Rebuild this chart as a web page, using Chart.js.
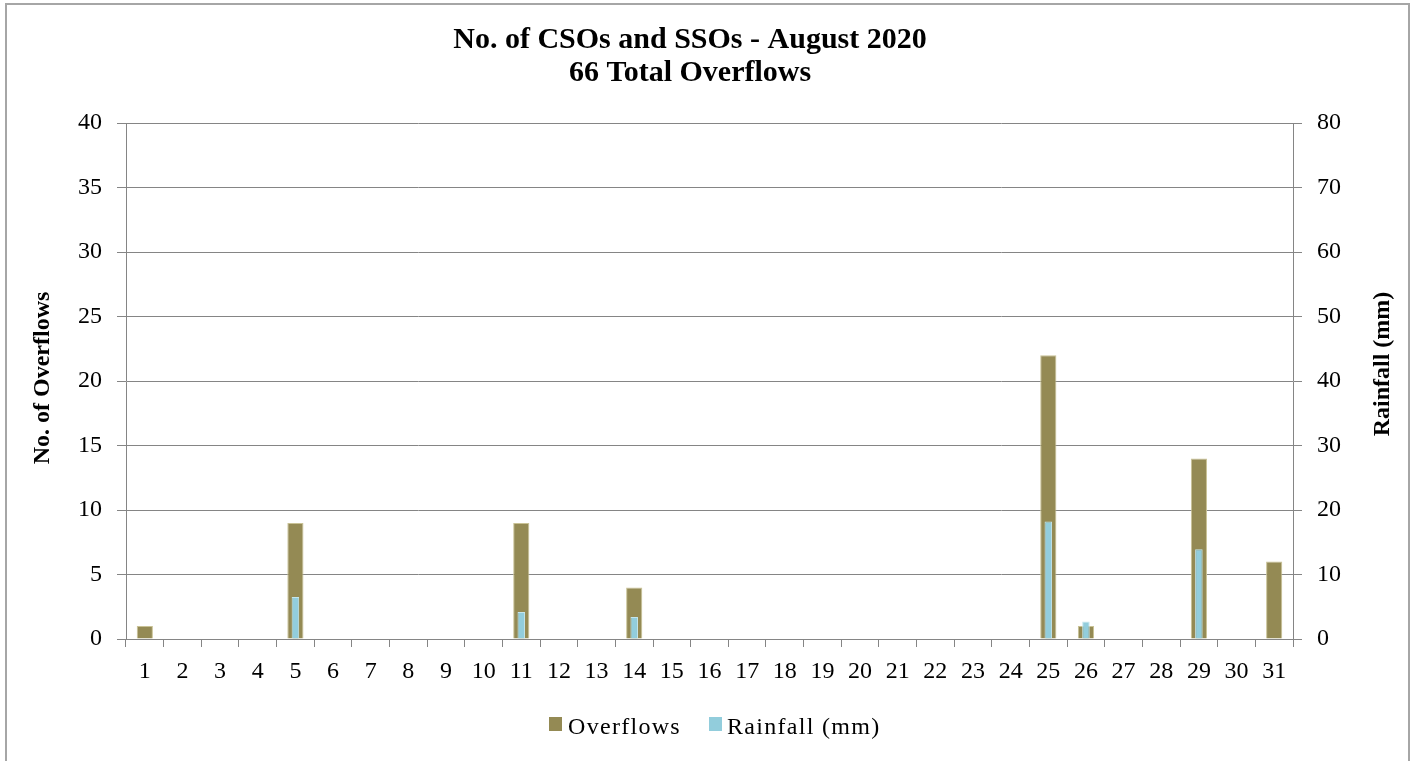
<!DOCTYPE html>
<html>
<head>
<meta charset="utf-8">
<title>No. of CSOs and SSOs - August 2020</title>
<script src="https://cdn.jsdelivr.net/npm/chart.js@4.4.1/dist/chart.umd.min.js"></script>
<style>
  html, body { margin: 0; padding: 0; background: #ffffff; overflow: hidden; }
  #wrap { position: relative; width: 1419px; height: 761px; }
  #frame {
    position: absolute; left: 5px; top: 3px; width: 1405px; height: 800px;
    border: 2px solid #a6a6a6; box-sizing: border-box; pointer-events: none;
  }
  canvas { position: absolute; left: 0; top: 0; }
</style>
</head>
<body>
<div id="wrap">
  <canvas id="chart" width="1419" height="761"></canvas>
  <div id="frame"></div>
</div>
<script>
// Days of August 2020
const days = ['1','2','3','4','5','6','7','8','9','10','11','12','13','14','15','16',
              '17','18','19','20','21','22','23','24','25','26','27','28','29','30','31'];

// Number of CSO/SSO overflows per day (66 in total)
const overflows = [1,0,0,0,9,0,0,0,0,0,9,0,0,4,0,0,0,0,0,0,0,0,0,0,22,1,0,0,14,0,6];

// Daily rainfall in mm
const rainfall = [0,0,0,0,6.5,0,0,0,0,0,4.2,0,0,3.4,0,0,0,0,0,0,0,0,0,0,18.2,2.7,0,0,13.9,0,0];

const titleLines = ['No. of CSOs and SSOs - August 2020', '66 Total Overflows'];
const leftAxisTitle = 'No. of Overflows';
const rightAxisTitle = 'Rainfall (mm)';

const SERIF = '"Liberation Serif", "Times New Roman", serif';
const GRID = '#858585';
const OLIVE = '#948A54';
const AQUA = '#92CDDC';

// Title, rotated axis titles and legend painted on top of the chart
const decorations = {
  id: 'decorations',
  afterDraw(chart) {
    const ctx = chart.ctx;
    ctx.save();
    ctx.fillStyle = '#000';

    ctx.font = 'bold 30px ' + SERIF;
    ctx.textAlign = 'center';
    ctx.textBaseline = 'alphabetic';
    ctx.fillText(titleLines[0], 690, 48);
    ctx.fillText(titleLines[1], 690, 81);

    ctx.font = 'bold 24px ' + SERIF;
    ctx.textBaseline = 'middle';
    ctx.save();
    ctx.translate(43, 378);
    ctx.rotate(-Math.PI / 2);
    ctx.fillText(leftAxisTitle, 0, 0);
    ctx.restore();
    ctx.save();
    ctx.translate(1383, 364);
    ctx.rotate(-Math.PI / 2);
    ctx.fillText(rightAxisTitle, 0, 0);
    ctx.restore();

    // legend
    const entries = [
      { ds: chart.data.datasets[0], box: 549, text: 568 },
      { ds: chart.data.datasets[1], box: 709, text: 727 }
    ];
    ctx.font = '24px ' + SERIF;
    ctx.letterSpacing = '1.3px';
    ctx.textAlign = 'left';
    ctx.textBaseline = 'alphabetic';
    entries.forEach(e => {
      ctx.fillStyle = e.ds.backgroundColor;
      ctx.fillRect(e.box, 717, 13, 14);
      ctx.fillStyle = '#000';
      ctx.fillText(e.ds.label, e.text, 734);
    });
    ctx.restore();
  }
};

new Chart(document.getElementById('chart'), {
  type: 'bar',
  data: {
    labels: days,
    datasets: [
      {
        label: 'Overflows',
        data: overflows,
        yAxisID: 'y',
        backgroundColor: OLIVE,
        borderColor: '#c9c295',
        borderWidth: 1,
        barPercentage: 0.43,
        categoryPercentage: 1,
        grouped: false,
        order: 1
      },
      {
        label: 'Rainfall (mm)',
        data: rainfall,
        yAxisID: 'y1',
        backgroundColor: AQUA,
        borderColor: '#c4e6ee',
        borderWidth: 1,
        barPercentage: 0.2,
        categoryPercentage: 1,
        grouped: false,
        order: 0
      }
    ]
  },
  options: {
    responsive: false,
    animation: false,
    layout: { padding: { top: 123, left: 0, right: 0, bottom: 0 } },
    plugins: {
      legend: { display: false },
      title: { display: false },
      tooltip: { enabled: false }
    },
    scales: {
      x: {
        offset: true,
        grid: { offset: true, drawOnChartArea: false, drawTicks: true, tickLength: 8, color: GRID },
        border: { display: true, color: GRID, width: 1 },
        ticks: { font: { family: SERIF, size: 24 }, color: '#000', padding: 10, maxRotation: 0, autoSkip: false },
        afterFit(scale) { scale.height = 122; }
      },
      y: {
        position: 'left',
        min: 0, max: 40,
        grid: { color: GRID, tickLength: 9, drawTicks: true },
        border: { display: true, color: GRID, width: 1 },
        ticks: { stepSize: 5, font: { family: SERIF, size: 24 }, color: '#000', padding: 15 },
        afterFit(scale) { scale.width = 126; }
      },
      y1: {
        position: 'right',
        min: 0, max: 80,
        grid: { drawOnChartArea: false, color: GRID, tickLength: 9, drawTicks: true },
        border: { display: true, color: GRID, width: 1 },
        ticks: { stepSize: 10, font: { family: SERIF, size: 24 }, color: '#000', padding: 15 },
        afterFit(scale) { scale.width = 126; }
      }
    }
  },
  plugins: [decorations]
});
</script>
</body>
</html>
